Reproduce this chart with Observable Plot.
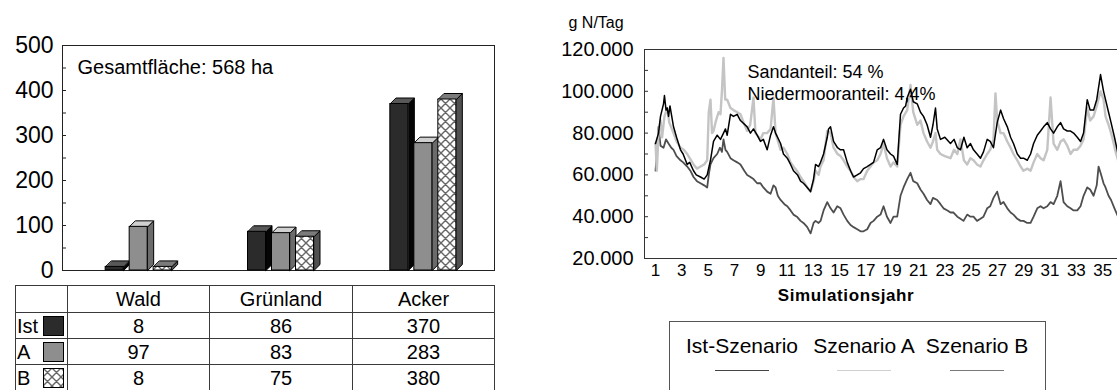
<!DOCTYPE html>
<html>
<head>
<meta charset="utf-8">
<script src="https://cdn.jsdelivr.net/npm/d3@7"></script>
<script src="https://cdn.jsdelivr.net/npm/@observablehq/plot@0.6"></script>
<style>
  html, body { margin: 0; padding: 0; background: #fff; }
  body { font-family: "Liberation Sans", Arial, sans-serif; color: #000; }
  #root { position: relative; width: 1117px; height: 390px; overflow: hidden; }
  .abs { position: absolute; }
  table.dt { border-collapse: collapse; font-size: 20px; table-layout: fixed; }
  table.dt td { border: 1px solid #3a3a3a; padding: 0; text-align: center; line-height: 1; }
  .legend-box { border: 1px solid #555; box-sizing: border-box; }
</style>
</head>
<body>
<svg width="0" height="0" style="position:absolute">
  <defs>
    <pattern id="xhatch" patternUnits="userSpaceOnUse" width="9" height="9">
      <rect width="9" height="9" fill="#fff"/>
      <path d="M0,0 L9,9 M9,0 L0,9 M-1,8 L1,10 M8,-1 L10,1 M-1,1 L1,-1 M8,10 L10,8" stroke="#666" stroke-width="1.4"/>
    </pattern>
  </defs>
</svg>
<div id="root"></div>
<script>
// ---------------- data: left chart (ha) ----------------
const categories = ["Wald", "Grünland", "Acker"];
const scenarios = ["Ist", "A", "B"];
const ist = [8, 86, 370];
const szA = [97, 83, 283];
const szB = [8, 75, 380];
const leftTicks = [0, 100, 200, 300, 400, 500];
const leftMinorTicks = [50, 150, 250, 350, 450];
const areaNote = "Gesamtfläche: 568 ha";

// ---------------- data: right chart (g N/Tag, thousands; [Jahr, Wert]) ----------------
const istSeries = [
 [1.00,75],[1.23,80],[1.38,88],[1.61,94],[1.68,98],[1.80,91],[1.89,92],[1.99,88],[2.10,93],[2.37,83],
 [2.60,78],[2.90,72],[3.10,70],[3.41,65],[3.60,66],[3.89,62],[4.10,60],[4.42,59],[4.70,58],[4.93,60],
 [5.18,67],[5.41,76],[5.69,79],[5.94,77],[6.17,80],[6.32,82],[6.45,79],[6.70,89],[6.93,88],[7.21,89],
 [7.46,86],[7.97,83],[8.22,80],[8.45,82],[8.73,79],[8.98,76],[9.20,77],[9.49,72],[9.75,79],[9.97,83],
 [10.13,80],[10.51,75],[10.73,70],[11.02,68],[11.27,65],[11.49,62],[11.80,60],[12.03,57],[12.25,56],[12.54,54],
 [12.79,52],[13.02,58],[13.17,65],[13.40,64],[13.55,66],[13.78,70],[14.06,78],[14.16,82],[14.31,83],[14.54,76],
 [14.84,73],[15.07,72],[15.30,72],[15.58,66],[15.83,62],[16.06,59],[16.34,60],[16.59,61],[16.82,63],[17.10,64],
 [17.35,65],[17.58,66],[17.86,72],[18.11,73],[18.34,77],[18.60,72],[18.87,70],[19.10,69],[19.38,65],[19.63,89],
 [19.86,92],[20.02,93],[20.14,97],[20.39,101],[20.60,95],[20.90,94],[21.15,90],[21.38,88],[21.65,84],[21.91,78],
 [22.10,84],[22.29,92],[22.42,82],[22.67,77],[23.00,78],[23.43,75],[23.70,77],[23.95,73],[24.19,72],[24.45,78],
 [24.70,73],[24.95,75],[25.18,72],[25.45,70],[25.71,68],[25.94,71],[26.22,77],[26.45,76],[26.70,73],[26.98,85],
 [27.24,91],[27.46,87],[27.75,83],[28.00,78],[28.22,75],[28.51,70],[28.76,68],[28.98,68],[29.27,67],[29.52,70],
 [29.75,75],[30.03,79],[30.28,81],[30.51,83],[30.79,85],[31.04,82],[31.27,80],[31.55,83],[31.80,85],[32.03,82],
 [32.31,81],[32.56,81],[32.79,80],[33.07,78],[33.32,76],[33.55,80],[33.83,96],[34.05,91],[34.31,91],[34.55,96],
 [34.84,108],[35.07,100],[35.22,96],[35.45,90],[35.64,85],[35.90,78],[36.17,70]
];
const szenarioA = [
 [1.00,75],[1.10,62],[1.23,80],[1.38,86],[1.50,78],[1.68,88],[1.89,92],[2.05,85],[2.37,80],[2.60,76],
 [2.90,73],[3.15,72],[3.41,70],[3.60,68],[3.89,65],[4.15,63],[4.42,64],[4.70,65],[4.93,67],[5.05,90],
 [5.18,96],[5.30,80],[5.41,81],[5.60,86],[5.80,90],[5.94,89],[6.05,100],[6.17,116],[6.30,96],[6.45,96],
 [6.70,92],[6.93,91],[7.21,90],[7.46,89],[7.70,85],[7.97,81],[8.20,84],[8.45,97],[8.60,80],[8.98,77],
 [9.20,80],[9.49,80],[9.75,82],[9.97,97],[10.13,80],[10.51,72],[10.73,73],[11.02,70],[11.27,66],[11.49,64],
 [11.75,62],[12.03,59],[12.25,57],[12.54,54],[12.79,52],[13.02,57],[13.17,62],[13.40,60],[13.55,64],[13.78,67],
 [14.06,81],[14.31,80],[14.54,73],[14.84,70],[15.07,69],[15.30,67],[15.58,64],[15.83,62],[16.06,59],[16.34,57],
 [16.59,58],[16.82,58],[17.10,62],[17.35,64],[17.58,66],[17.86,67],[18.11,70],[18.34,75],[18.60,68],[18.87,64],
 [19.10,66],[19.38,64],[19.63,84],[19.86,88],[20.14,91],[20.39,103],[20.60,90],[20.90,84],[21.15,86],[21.38,80],
 [21.65,76],[21.91,73],[22.10,76],[22.29,80],[22.42,72],[22.67,70],[23.00,69],[23.43,68],[23.70,72],[23.95,70],
 [24.19,77],[24.45,67],[24.70,65],[24.95,68],[25.18,67],[25.45,65],[25.71,64],[25.94,67],[26.22,70],[26.45,72],
 [26.70,77],[26.85,99],[26.98,86],[27.24,80],[27.46,80],[27.75,76],[28.00,73],[28.22,70],[28.51,67],[28.76,64],
 [28.98,62],[29.27,63],[29.52,62],[29.75,66],[30.03,70],[30.28,68],[30.51,67],[30.79,72],[31.04,97],[31.27,75],
 [31.55,72],[31.80,76],[32.03,77],[32.31,74],[32.56,70],[32.79,72],[33.07,72],[33.32,74],[33.55,77],[33.83,92],
 [34.05,86],[34.31,88],[34.55,93],[34.84,100],[35.07,96],[35.22,88],[35.45,84],[35.64,80],[35.77,77],[35.95,72],
 [36.17,67]
];
const szenarioB = [
 [1.00,62],[1.10,70],[1.23,83],[1.38,74],[1.61,73],[1.80,77],[1.99,75],[2.20,73],[2.37,72],[2.60,69],
 [2.90,67],[3.10,66],[3.41,64],[3.65,62],[3.89,59],[4.15,57],[4.42,56],[4.70,55],[4.93,54],[5.05,60],
 [5.18,65],[5.41,68],[5.69,70],[5.90,73],[6.05,71],[6.17,77],[6.32,72],[6.45,71],[6.70,68],[6.93,67],
 [7.21,66],[7.46,65],[7.75,62],[7.97,60],[8.22,59],[8.45,58],[8.73,56],[8.98,56],[9.20,54],[9.49,52],
 [9.75,51],[9.97,55],[10.13,54],[10.30,50],[10.51,48],[10.80,46],[11.02,45],[11.27,43],[11.49,41],[11.75,40],
 [12.03,38],[12.25,37],[12.54,35],[12.79,32],[13.02,37],[13.17,38],[13.40,37],[13.55,38],[13.78,43],[14.06,47],
 [14.31,44],[14.54,42],[14.82,45],[15.07,44],[15.30,41],[15.58,38],[15.83,36],[16.06,35],[16.34,34],[16.59,33],
 [16.82,33],[17.10,34],[17.35,37],[17.58,38],[17.86,40],[18.11,41],[18.34,45],[18.60,40],[18.87,37],[19.10,40],
 [19.38,40],[19.63,50],[19.86,54],[20.14,58],[20.39,61],[20.60,57],[20.90,56],[21.15,53],[21.38,51],[21.65,48],
 [21.91,46],[22.10,49],[22.42,48],[22.67,46],[22.90,44],[23.20,43],[23.43,42],[23.66,42],[23.95,40],[24.19,39],
 [24.42,38],[24.70,41],[24.95,40],[25.18,40],[25.45,38],[25.71,39],[25.94,40],[26.22,44],[26.45,45],[26.70,49],
 [26.98,52],[27.24,46],[27.46,47],[27.75,44],[28.00,42],[28.22,41],[28.51,39],[28.76,38],[28.98,38],[29.27,37],
 [29.52,37],[29.75,40],[30.03,44],[30.28,45],[30.51,44],[30.79,45],[31.04,47],[31.27,46],[31.55,50],[31.80,57],
 [32.03,47],[32.31,45],[32.56,44],[32.79,43],[33.07,43],[33.32,45],[33.55,50],[33.83,54],[34.05,53],[34.31,50],
 [34.55,55],[34.69,64],[34.84,61],[35.07,56],[35.22,54],[35.45,50],[35.64,48],[35.90,44],[36.17,40]
];
const seriesNames = ["Ist-Szenario", "Szenario A", "Szenario B"];
const rightYTicks = [20000, 40000, 60000, 80000, 100000, 120000];
const rightMinorTicks = [30000, 50000, 70000, 90000, 110000];
const yearTicks = [1,3,5,7,9,11,13,15,17,19,21,23,25,27,29,31,33,35];
const notes = ["Sandanteil: 54 %", "Niedermooranteil: 4,4%"];
const yUnit = "g N/Tag";
const xTitle = "Simulationsjahr";

// ---------------- helpers ----------------
const FONT = "'Liberation Sans', Arial, sans-serif";
const root = document.getElementById("root");
function place(el, left, top) {
  const d = document.createElement("div");
  d.className = "abs";
  d.style.left = left + "px";
  d.style.top = top + "px";
  d.appendChild(el);
  root.appendChild(d);
  return d;
}
const de = d3.formatLocale({decimal: ",", thousands: ".", grouping: [3], currency: ["", " €"]});
const fmtDE = de.format(",.0f");

// ---------------- left: 3D bar chart ----------------
const L = {width: 500, height: 280, left: 62, right: 494, x0: 67, top: 45, bottom: 270};
const kx = (L.right - L.x0) / 3;                 // px per category
const ky = (L.bottom - L.top) / 500;             // px per ha
const barW = 18 / kx, dxU = 6 / kx, dyU = 6 / ky;
const offsetsPx = [-33, -9, 15];
const valuesBy = {Ist: ist, A: szA, B: szB};
const bars = [];
categories.forEach((c, i) => scenarios.forEach((s, j) => {
  const x0 = i + 0.5 + offsetsPx[j] / kx;
  bars.push({cat: c, sc: s, x0, x1: x0 + barW, v: valuesBy[s][i]});
}));
const frontFill = {Ist: "#2b2b2b", A: "#8e8e8e", B: "url(#xhatch)"};
const topFill = {Ist: "#585858", A: "#d0d0d0", B: "#7b7b7b"};
const sideFill = {Ist: "#050505", A: "#6b6b6b", B: "#505050"};
function topFaces(sc) {
  const r = [];
  bars.filter(b => b.sc === sc).forEach(b => {
    const id = b.cat;
    r.push({id, x: b.x0, y: b.v}, {id, x: b.x1, y: b.v}, {id, x: b.x1 + dxU, y: b.v + dyU}, {id, x: b.x0 + dxU, y: b.v + dyU});
  });
  return r;
}
function sideFaces(sc) {
  const r = [];
  bars.filter(b => b.sc === sc).forEach(b => {
    const id = b.cat;
    r.push({id, x: b.x1, y: 0}, {id, x: b.x1 + dxU, y: dyU}, {id, x: b.x1 + dxU, y: b.v + dyU}, {id, x: b.x1, y: b.v});
  });
  return r;
}
const leftMarks = [
  Plot.frame({stroke: "#222"}),
  Plot.ruleY(leftMinorTicks.concat(leftTicks.slice(1, -1)), {x1: (L.left - L.x0) / kx, x2: (L.left + 4 - L.x0) / kx, stroke: "#222"}),
  Plot.axisY(leftTicks, {tickSize: 0, tickPadding: 9, fontSize: 23, label: null}),
  Plot.text([areaNote], {frameAnchor: "top-left", text: d => d, dx: 15, dy: 22, textAnchor: "start", lineAnchor: "middle", fontSize: 20})
];
scenarios.forEach(s => {
  leftMarks.push(
    Plot.line(sideFaces(s), {x: "x", y: "y", z: "id", curve: "linear-closed", fill: sideFill[s], stroke: "#000", strokeWidth: 1}),
    Plot.line(topFaces(s), {x: "x", y: "y", z: "id", curve: "linear-closed", fill: topFill[s], stroke: "#000", strokeWidth: 1}),
    Plot.rect(bars.filter(b => b.sc === s), {x1: "x0", x2: "x1", y1: 0, y2: "v", fill: frontFill[s], stroke: "#000", strokeWidth: 1})
  );
});
const leftPlot = Plot.plot({
  width: L.width, height: L.height,
  marginLeft: L.left, marginRight: L.width - L.right, marginTop: L.top, marginBottom: L.height - L.bottom,
  x: {domain: [0, 3], range: [L.x0, L.right], axis: null},
  y: {domain: [0, 500], range: [L.bottom, L.top], label: null},
  style: {fontFamily: FONT, fontSize: "20px", color: "#000", background: "transparent", overflow: "visible"},
  marks: leftMarks
});
place(leftPlot, 0, 0).style.width = L.width + "px";

// ---------------- left: data table ----------------
const table = document.createElement("table");
table.className = "dt";
const colW = [52, 142, 143, 142];
const cg = document.createElement("colgroup");
colW.forEach(w => { const c = document.createElement("col"); c.style.width = w + "px"; cg.appendChild(c); });
table.appendChild(cg);
const head = document.createElement("tr");
head.style.height = "27px";
head.innerHTML = "<td></td>" + categories.map(c => `<td>${c}</td>`).join("");
table.appendChild(head);
const swatchSvg = {
  Ist: `<svg width="21" height="20"><rect x="0.5" y="0.5" width="20" height="19" fill="#2b2b2b" stroke="#000"/></svg>`,
  A: `<svg width="21" height="20"><rect x="0.5" y="0.5" width="20" height="19" fill="#8e8e8e" stroke="#000"/></svg>`,
  B: `<svg width="21" height="20"><rect x="0.5" y="0.5" width="20" height="19" fill="url(#xhatch)" stroke="#000"/></svg>`
};
scenarios.forEach(s => {
  const tr = document.createElement("tr");
  tr.style.height = "26px";
  const first = `<td style="text-align:left;position:relative;"><span style="padding-left:1px">${s}</span><span style="position:absolute;right:3px;top:3px;line-height:0">${swatchSvg[s]}</span></td>`;
  tr.innerHTML = first + valuesBy[s].map(v => `<td>${v}</td>`).join("");
  table.appendChild(tr);
});
place(table, 15, 285);

// ---------------- right: time series ----------------
const R = {width: 577, height: 285, left: 104, top: 49, bottom: 258};
const xMin = 0.163, xMax = 36.13;
const pxPerYear = (R.width - R.left) / (xMax - xMin);
const toRows = arr => arr.map(([t, v]) => ({t, v: v * 1000}));
const rightPlot = Plot.plot({
  width: R.width, height: R.height,
  marginLeft: R.left, marginRight: 0, marginTop: R.top, marginBottom: R.height - R.bottom,
  x: {domain: [xMin, xMax], label: null},
  y: {domain: [20000, 120000], label: null},
  style: {fontFamily: FONT, fontSize: "20px", color: "#000", background: "transparent", overflow: "visible"},
  marks: [
    Plot.line(toRows(szenarioB), {x: "t", y: "v", stroke: "#4e4e4e", strokeWidth: 1.8, strokeLinejoin: "round"}),
    Plot.line(toRows(szenarioA), {x: "t", y: "v", stroke: "#c4c4c4", strokeWidth: 2.4, strokeLinejoin: "round"}),
    Plot.line(toRows(istSeries), {x: "t", y: "v", stroke: "#000000", strokeWidth: 1.5, strokeLinejoin: "round"}),
    Plot.ruleY([20000, 120000], {stroke: "#333"}),
    Plot.ruleX([xMin], {stroke: "#333"}),
    Plot.ruleY(rightMinorTicks.concat(rightYTicks.slice(1, -1)), {x1: xMin, x2: xMin + 4 / pxPerYear, stroke: "#333"}),
    Plot.axisX(yearTicks, {tickSize: 0, tickPadding: 5, fontSize: 17, label: null}),
    Plot.axisY(rightYTicks, {tickSize: 0, tickPadding: 11, tickFormat: fmtDE, fontSize: 20, label: null}),
    Plot.text([yUnit], {frameAnchor: "top-left", text: d => d, dx: 28 - R.left, dy: 22 - R.top, textAnchor: "start", lineAnchor: "middle", fontSize: 16}),
    Plot.text([notes[0]], {frameAnchor: "top-left", text: d => d, dx: 103, dy: 23, textAnchor: "start", lineAnchor: "middle", fontSize: 18}),
    Plot.text([notes[1]], {frameAnchor: "top-left", text: d => d, dx: 103, dy: 45, textAnchor: "start", lineAnchor: "middle", fontSize: 18})
  ]
});
place(rightPlot, 540, 0).style.width = R.width + "px";

// x title
const xt = document.createElement("div");
xt.textContent = xTitle;
xt.style.cssText = "width:292px;text-align:center;font-weight:bold;font-size:17px;letter-spacing:0.6px;line-height:20px;";
place(xt, 700, 286);

// legend
const lg = document.createElement("div");
lg.className = "legend-box";
lg.style.cssText += "position:relative;width:377px;height:90px;";
const legendColors = ["#444", "#cfcfcf", "#7a7a7a"];
const legendCenters = [72, 194, 307];
seriesNames.forEach((n, i) => {
  const t = document.createElement("div");
  t.textContent = n;
  t.style.cssText = `position:absolute;left:${legendCenters[i] - 80}px;width:160px;text-align:center;top:12px;font-size:21px;line-height:24px;white-space:nowrap;`;
  lg.appendChild(t);
  const ln = document.createElement("div");
  ln.style.cssText = `position:absolute;left:${legendCenters[i] - 27}px;width:54px;top:48px;height:0;border-top:1.5px solid ${legendColors[i]};`;
  lg.appendChild(ln);
});
place(lg, 669, 321);
</script>
</body>
</html>
